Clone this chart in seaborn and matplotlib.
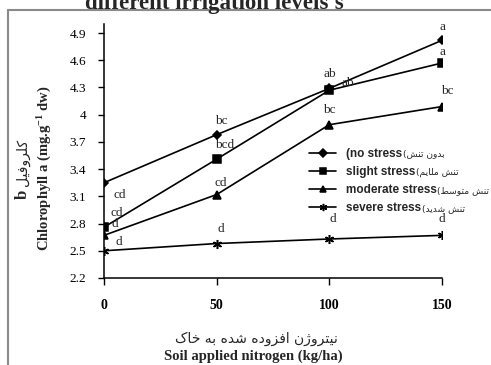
import matplotlib
matplotlib.use("Agg")
import matplotlib.pyplot as plt
import seaborn as sns
import pandas as pd
from matplotlib.lines import Line2D
from matplotlib.font_manager import FontProperties

# ---- data -------------------------------------------------------------
nitrogen = [0, 50, 100, 150]
no_stress = [3.25, 3.78, 4.29, 4.82]
slight_stress = [2.76, 3.51, 4.27, 4.57]
moderate_stress = [2.67, 3.12, 3.89, 4.09]
severe_stress = [2.50, 2.58, 2.63, 2.67]

no_stress_letters = ["cd", "bc", "ab", "a"]
slight_stress_letters = ["cd", "bcd", "ab", "a"]
moderate_stress_letters = ["d", "cd", "bc", "bc"]
severe_stress_letters = ["d", "d", "d", "d"]

series_en = ["(no stress", "slight stress", "moderate stress", "severe stress"]
series_fa = ["بدون تنش", "تنش ملایم", "تنش متوسط", "تنش شدید"]

y_ticks = [2.2, 2.5, 2.8, 3.1, 3.4, 3.7, 4.0, 4.3, 4.6, 4.9]
y_tick_labels = ["2.2", "2.5", "2.8", "3.1", "3.4", "3.7", "4", "4.3", "4.6", "4.9"]

title_text = "different irrigation levels's"
ylabel_en = "Chlorophyll a (mg.g$^{-1}$ dw)"
ylabel_fa = "کلروفیل"
xlabel_en = "Soil applied nitrogen (kg/ha)"
xlabel_fa = "نیتروژن افزوده شده به خاک"

# ---- Persian text shaping (contextual forms, visual order) -------------
FORMS = {  # isolated, final, initial, medial
    "ا": ("\uFE8D", "\uFE8E", None, None),
    "ب": ("\uFE8F", "\uFE90", "\uFE91", "\uFE92"),
    "ت": ("\uFE95", "\uFE96", "\uFE97", "\uFE98"),
    "خ": ("\uFEA5", "\uFEA6", "\uFEA7", "\uFEA8"),
    "د": ("\uFEA9", "\uFEAA", None, None),
    "ر": ("\uFEAD", "\uFEAE", None, None),
    "ز": ("\uFEAF", "\uFEB0", None, None),
    "ژ": ("\uFB8A", "\uFB8B", None, None),
    "س": ("\uFEB1", "\uFEB2", "\uFEB3", "\uFEB4"),
    "ش": ("\uFEB5", "\uFEB6", "\uFEB7", "\uFEB8"),
    "ط": ("\uFEC1", "\uFEC2", "\uFEC3", "\uFEC4"),
    "ف": ("\uFED1", "\uFED2", "\uFED3", "\uFED4"),
    "ک": ("\uFB8E", "\uFB8F", "\uFB90", "\uFB91"),
    "ل": ("\uFEDD", "\uFEDE", "\uFEDF", "\uFEE0"),
    "م": ("\uFEE1", "\uFEE2", "\uFEE3", "\uFEE4"),
    "ن": ("\uFEE5", "\uFEE6", "\uFEE7", "\uFEE8"),
    "ه": ("\uFEE9", "\uFEEA", "\uFEEB", "\uFEEC"),
    "و": ("\uFEED", "\uFEEE", None, None),
    "ی": ("\uFBFC", "\uFBFD", "\uFBFE", "\uFBFF"),
}


def shape_fa(s):
    out = []
    for i, c in enumerate(s):
        if c not in FORMS:
            out.append(c)
            continue
        iso, fin, ini, med = FORMS[c]
        prev = s[i - 1] if i > 0 else None
        nxt = s[i + 1] if i + 1 < len(s) else None
        join_prev = prev in FORMS and FORMS[prev][2] is not None
        join_next = ini is not None and nxt in FORMS
        if join_prev and join_next:
            out.append(med)
        elif join_prev:
            out.append(fin)
        elif join_next:
            out.append(ini)
        else:
            out.append(iso)
    return "".join(reversed(out))


# ---- style ------------------------------------------------------------
sns.set_style("ticks")
plt.rcParams["font.family"] = ["Liberation Serif", "DejaVu Sans"]
plt.rcParams["mathtext.fontset"] = "custom"
plt.rcParams["mathtext.rm"] = "Liberation Serif:bold"
plt.rcParams["mathtext.bf"] = "Liberation Serif:bold"
plt.rcParams["mathtext.it"] = "Liberation Serif:bold:italic"

W, H = 491, 365
fig = plt.figure(figsize=(W / 100, H / 100), dpi=100)
ax = fig.add_axes([104 / W, 1 - 278 / H, (442 - 104) / W, (278 - 24) / H])

df = pd.DataFrame({
    "N": nitrogen * 4,
    "chl": no_stress + slight_stress + moderate_stress + severe_stress,
    "level": sum([[s] * 4 for s in series_en], []),
})

markers = ["D", "s", "^", (6, 2, 0)]
msizes = [4.5, 5.5, 6, 6.5]
letters = [no_stress_letters, slight_stress_letters,
           moderate_stress_letters, severe_stress_letters]
# label offsets in pixels relative to each point
offsets = [
    [(16, -12), (5, 14), (0, 14), (0, 13)],
    [(13, 14), (8, 14), (18, 7), (0, 11)],
    [(11, 11), (4, 12), (0, 15), (5, 16)],
    [(15, 9), (4, 15), (3, 20), (0, 16)],
]

for k, name in enumerate(series_en):
    sub = df[df["level"] == name]
    sns.lineplot(data=sub, x="N", y="chl", ax=ax, color="black",
                 marker=markers[k], markersize=msizes[k], markeredgewidth=1.1,
                 markeredgecolor="black", markerfacecolor="black",
                 linewidth=1.2, label=name)
    for xv, yv, lt, off in zip(sub["N"], sub["chl"], letters[k], offsets[k]):
        ax.annotate(lt, (xv, yv), xytext=off, textcoords="offset pixels",
                    ha="center", va="center", fontsize=9.5,
                    family="Liberation Serif", clip_on=False)

ax.set_xlim(0, 150)
ax.set_ylim(2.2, 5.0)
ax.set_xticks(nitrogen)
ax.set_xticklabels([str(v) for v in nitrogen], fontsize=10, fontweight="bold")
ax.set_yticks(y_ticks)
ax.set_yticklabels(y_tick_labels, fontsize=9.5)
ax.tick_params(axis="y", direction="out", length=4, width=1, pad=9, colors="black")
ax.tick_params(axis="x", direction="out", length=5, width=1, pad=10, colors="black")
ax.set_xlabel("")
ax.set_ylabel("")
for side in ["top", "right"]:
    ax.spines[side].set_visible(False)
for side in ["left", "bottom"]:
    ax.spines[side].set_color("black")
    ax.spines[side].set_linewidth(1.1)

# legend (English part), Persian part placed after each label
leg = ax.legend(loc="upper left", bbox_to_anchor=(309 / W, 1 - 148 / H),
                bbox_transform=fig.transFigure, frameon=False,
                prop=FontProperties(family="Liberation Sans", weight="bold", size=8.5),
                handlelength=2.3, handletextpad=0.8, labelspacing=0.52,
                borderpad=0, borderaxespad=0, markerscale=0.8)
fig.canvas.draw()
inv = fig.transFigure.inverted()
for t, fa in zip(leg.get_texts(), series_fa):
    bb = t.get_window_extent()
    x0, y0 = inv.transform((bb.x1 + 1, (bb.y0 + bb.y1) / 2))
    fig.text(x0, y0, "(" + shape_fa(fa), ha="left", va="center",
             fontsize=6.6, family="DejaVu Sans")

# axis titles
fig.text(45 / W, 1 - 168 / H, ylabel_en, rotation=90, ha="center", va="center",
         fontsize=10.5, fontweight="bold", family="Liberation Serif")
fig.text(23 / W, 1 - 194 / H, "b", rotation=90, ha="center", va="center",
         fontsize=12, fontweight="bold", family="Liberation Serif")
fig.text(23 / W, 1 - 162 / H, shape_fa(ylabel_fa), rotation=90, ha="center",
         va="center", fontsize=10, family="DejaVu Sans")
fig.text(256 / W, 1 - 339 / H, shape_fa(xlabel_fa), ha="center", va="center",
         fontsize=10, family="DejaVu Sans")
fig.text(253 / W, 1 - 356 / H, xlabel_en, ha="center", va="center",
         fontsize=10.5, fontweight="bold", family="Liberation Serif")

# title (partly above the canvas)
fig.text(214 / W, 1 - 9 / H, title_text, ha="center", va="baseline",
         fontsize=16.5, fontweight="bold", family="Liberation Serif")

# chart frame (left and top edges)
fig.add_artist(Line2D([8 / W, 8 / W], [0, 1 - 10 / H], transform=fig.transFigure,
                      color="#8a8a8a", linewidth=1.5))
fig.add_artist(Line2D([8 / W, 1], [1 - 10 / H, 1 - 10 / H], transform=fig.transFigure,
                      color="#8a8a8a", linewidth=1.5))

fig.savefig("out.png", dpi=100)
